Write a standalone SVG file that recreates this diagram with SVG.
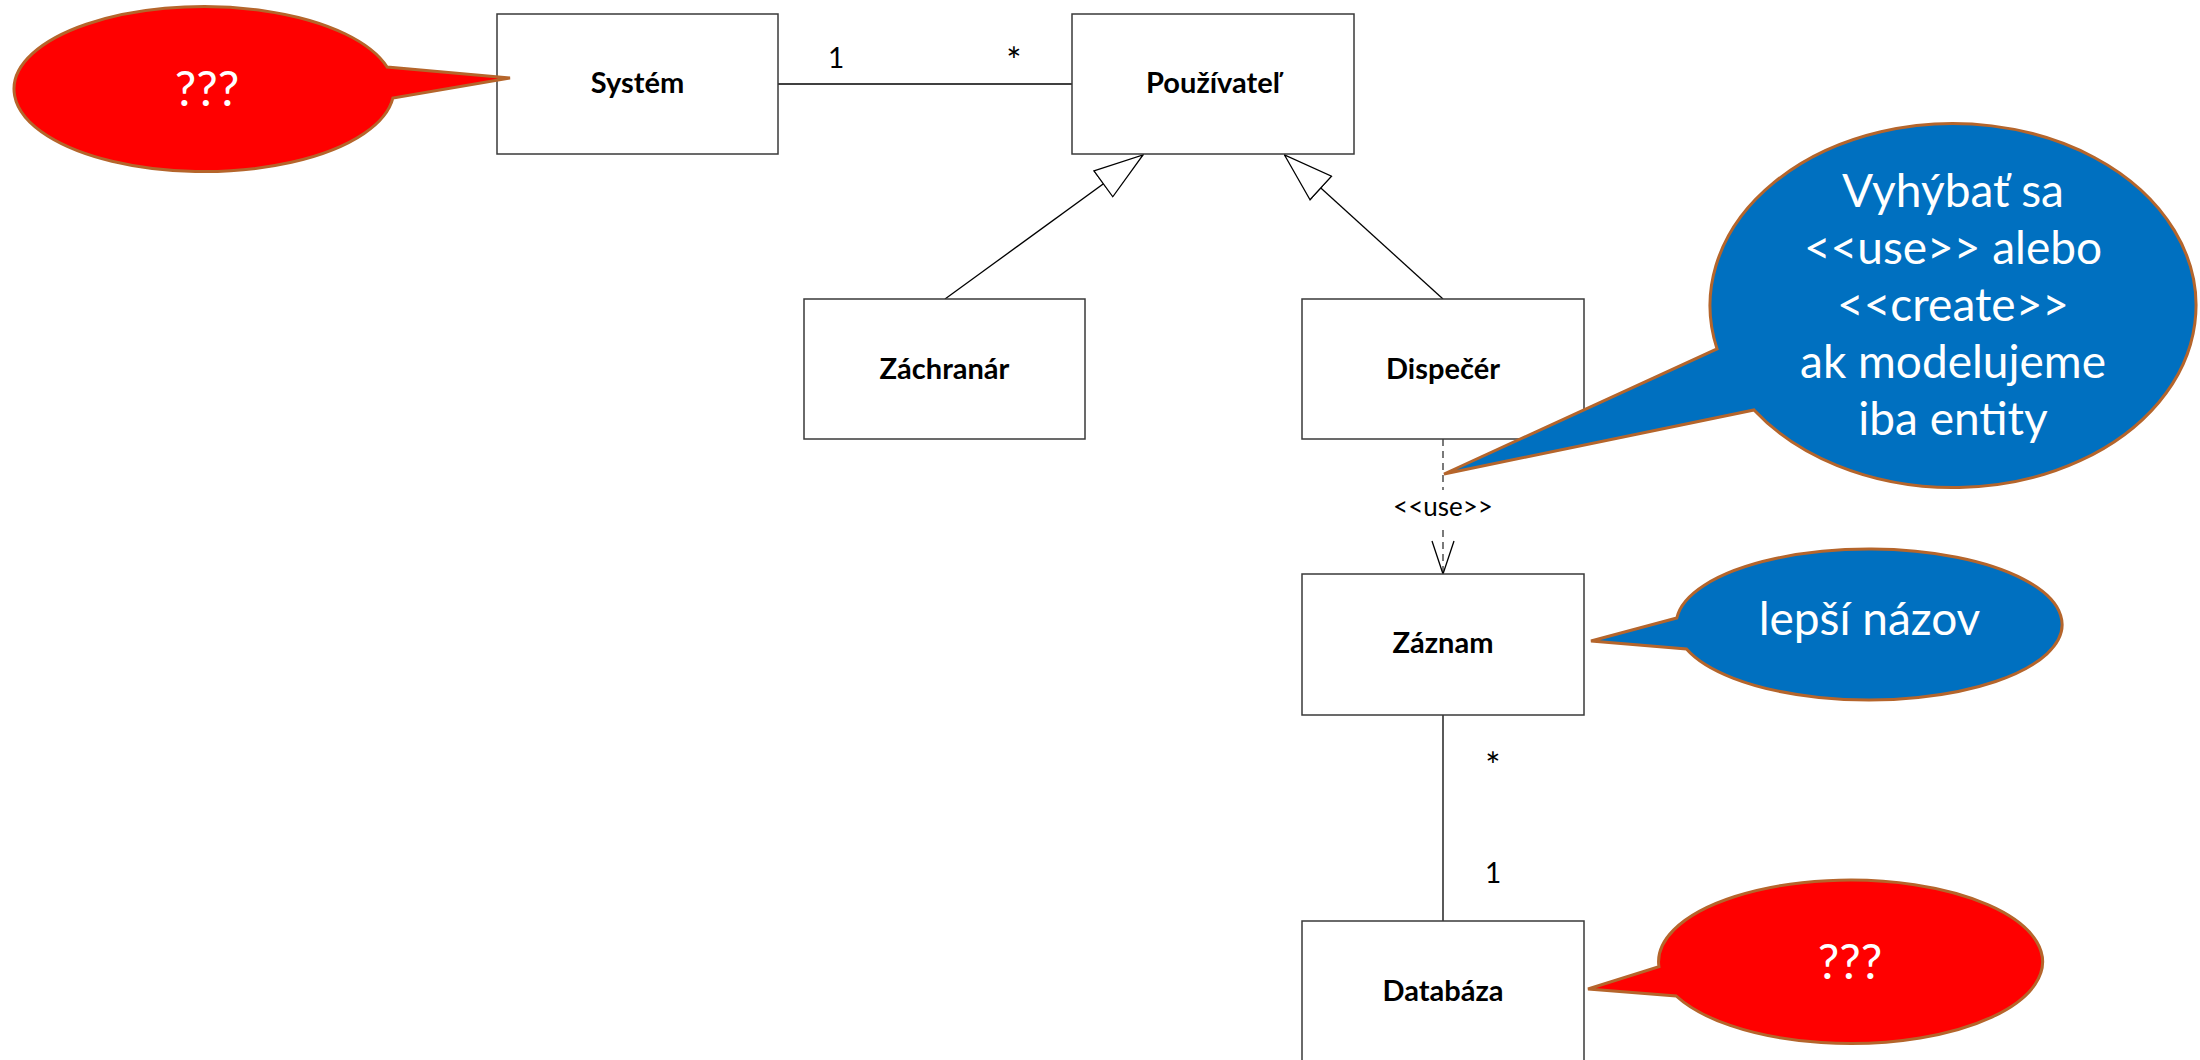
<svg xmlns="http://www.w3.org/2000/svg" width="2200" height="1060" viewBox="0 0 2200 1060">
<style>
.box{fill:#fff;stroke:#3a3a3a;stroke-width:1.5}
.lbl{font-family:Lato,"Open Sans",sans-serif;font-weight:bold;font-size:29px;text-anchor:middle;fill:#000}
.mult{font-family:Lato,"Open Sans",sans-serif;font-size:28px;text-anchor:middle;fill:#000}
.star{font-size:36px}
.edge{stroke:#000;stroke-width:1.3;fill:none}
.dash{stroke:#333;stroke-dasharray:7 5}
.red{fill:#FF0000;stroke:#B5652B;stroke-width:3}
.blue{fill:#0070C0;stroke:#B5652B;stroke-width:3}
.ctext{font-family:Lato,"Open Sans",sans-serif;fill:#fff;text-anchor:middle;font-size:46px}
</style>
<defs>
<marker id="gen" markerUnits="userSpaceOnUse" viewBox="-1 -17 51 34" markerWidth="51" markerHeight="34" refX="49" refY="0" orient="auto">
<path d="M0,-16 L49,0 L0,16 Z" fill="#fff" stroke="#000" stroke-width="1.3"/>
</marker>
<marker id="open" markerUnits="userSpaceOnUse" viewBox="-1 -12 35 24" markerWidth="35" markerHeight="24" refX="33" refY="0" orient="auto">
<path d="M0,-11 L33,0 L0,11" fill="none" stroke="#000" stroke-width="1.3"/>
</marker>
</defs>

<g id="connectors">
<g id="assoc-system-pouzivatel">
<line class="edge" x1="778" y1="84" x2="1072" y2="84"/>
<text class="mult" x="836" y="68">1</text>
<text class="mult star" x="1014" y="74">*</text>
</g>
<path id="gen-zachranar" class="edge" d="M945,299 L1143,155" marker-end="url(#gen)"/>
<path id="gen-dispecer" class="edge" d="M1443,299 L1284.5,155" marker-end="url(#gen)"/>
<g id="dep-use">
<path class="edge dash" d="M1443,439 V490 M1443,530 V574" marker-end="url(#open)"/>
<text class="mult" x="1443" y="516" style="font-size:26px">&lt;&lt;use&gt;&gt;</text>
</g>
<g id="assoc-zaznam-databaza">
<line class="edge" x1="1443" y1="715" x2="1443" y2="921"/>
<text class="mult star" x="1493" y="779">*</text>
<text class="mult" x="1493" y="883">1</text>
</g>
</g>

<g id="node-system"><rect class="box" x="497" y="14" width="281" height="140"/><text class="lbl" x="637.5" y="93">Systém</text></g>
<g id="node-pouzivatel"><rect class="box" x="1072" y="14" width="282" height="140"/><text class="lbl" x="1213" y="93">Používateľ</text></g>
<g id="node-zachranar"><rect class="box" x="804" y="299" width="281" height="140"/><text class="lbl" x="944.5" y="379">Záchranár</text></g>
<g id="node-dispecer"><rect class="box" x="1302" y="299" width="282" height="140"/><text class="lbl" x="1443" y="379">Dispečér</text></g>
<g id="node-zaznam"><rect class="box" x="1302" y="574" width="282" height="141"/><text class="lbl" x="1443" y="653">Záznam</text></g>
<g id="node-databaza"><rect class="box" x="1302" y="921" width="282" height="141"/><text class="lbl" x="1443" y="1001">Databáza</text></g>

<g id="callout-system">
<path class="red" d="M510,78 L387.1,67 A190,82.5 0 1 0 392.9,98 Z"/>
<text class="ctext" x="207" y="106" style="font-size:48px">???</text>
</g>
<g id="callout-use">
<path class="blue" d="M1444,474 L1717,348.9 A243,182 0 1 1 1754,410 Z"/>
<text class="ctext" x="1953" y="207">Vyhýbať sa</text>
<text class="ctext" x="1953" y="264">&lt;&lt;use&gt;&gt; alebo</text>
<text class="ctext" x="1953" y="321">&lt;&lt;create&gt;&gt;</text>
<text class="ctext" x="1953" y="378">ak modelujeme</text>
<text class="ctext" x="1953" y="435">iba entity</text>
</g>
<g id="callout-zaznam">
<path class="blue" d="M1591,641 L1676.8,618 A193,75.5 0 1 1 1686.5,649 Z"/>
<text class="ctext" x="1869.5" y="635">lepší názov</text>
</g>
<g id="callout-databaza">
<path class="red" d="M1588,989 L1658.9,966.7 A192,81.7 0 1 1 1676.2,996 Z"/>
<text class="ctext" x="1850" y="979" style="font-size:48px">???</text>
</g>
</svg>
